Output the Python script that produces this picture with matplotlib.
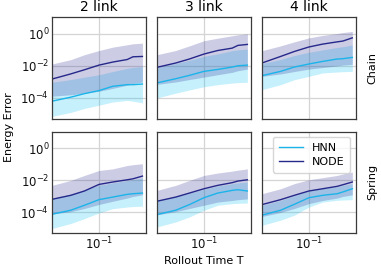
import numpy as np
import matplotlib
matplotlib.use("Agg")
import matplotlib.pyplot as plt

# rollout times
t = [0.0316, 0.05, 0.07, 0.1, 0.14, 0.2, 0.23, 0.29]

links = ["2 link", "3 link", "4 link"]
systems = ["Chain", "Spring"]

# energy error, stored as log10 values, one row per link count
chain_hnn_mid = [
    [-4.2, -3.95, -3.73, -3.54, -3.27, -3.17, -3.17, -3.13],
    [-3.06, -2.8, -2.59, -2.34, -2.22, -2.07, -1.99, -1.95],
    [-2.61, -2.34, -2.07, -1.88, -1.72, -1.57, -1.55, -1.47],
]
chain_hnn_lo = [
    [-5.15, -4.9, -4.65, -4.45, -4.25, -4.15, -4.2, -4.3],
    [-4.0, -3.7, -3.5, -3.3, -3.17, -3.07, -3.04, -3.02],
    [-3.48, -3.17, -2.86, -2.65, -2.44, -2.38, -2.36, -2.34],
]
chain_hnn_hi = [
    [-3.02, -2.85, -2.7, -2.55, -2.35, -2.15, -2.1, -2.05],
    [-2.1, -1.85, -1.65, -1.4, -1.25, -1.05, -1.0, -0.95],
    [-1.85, -1.6, -1.35, -1.15, -1.0, -0.85, -0.8, -0.7],
]
chain_node_mid = [
    [-2.82, -2.5, -2.24, -1.95, -1.76, -1.6, -1.43, -1.41],
    [-2.09, -1.82, -1.57, -1.26, -1.04, -0.89, -0.72, -0.66],
    [-1.82, -1.41, -1.1, -0.82, -0.64, -0.5, -0.45, -0.25],
]
chain_node_lo = [
    [-3.89, -3.8, -3.7, -3.58, -3.4, -3.2, -3.1, -3.0],
    [-3.15, -3.0, -2.85, -2.7, -2.55, -2.4, -2.3, -2.2],
    [-2.65, -2.5, -2.35, -2.2, -2.1, -2.0, -1.95, -1.9],
]
chain_node_hi = [
    [-1.88, -1.61, -1.3, -1.04, -0.83, -0.68, -0.62, -0.58],
    [-1.3, -1.04, -0.75, -0.43, -0.27, -0.12, -0.06, 0.0],
    [-1.05, -0.75, -0.5, -0.25, -0.1, 0.02, 0.08, 0.15],
]
spring_hnn_mid = [
    [-4.11, -3.86, -3.55, -3.2, -3.04, -2.87, -2.83, -2.79],
    [-4.13, -3.86, -3.51, -3.08, -2.79, -2.62, -2.58, -2.66],
    [-4.17, -3.86, -3.49, -3.08, -2.93, -2.83, -2.72, -2.52],
]
spring_hnn_lo = [
    [-5.0, -4.69, -4.38, -4.03, -3.76, -3.66, -3.63, -3.61],
    [-4.9, -4.59, -4.28, -3.86, -3.55, -3.45, -3.43, -3.41],
    [-4.8, -4.48, -4.17, -3.66, -3.35, -3.24, -3.22, -3.2],
]
spring_hnn_hi = [
    [-3.1, -2.85, -2.6, -2.3, -2.15, -2.0, -1.95, -1.85],
    [-3.25, -3.0, -2.8, -2.55, -2.35, -2.2, -2.15, -2.1],
    [-3.55, -3.25, -2.95, -2.65, -2.5, -2.4, -2.3, -2.2],
]
spring_node_mid = [
    [-3.18, -2.93, -2.66, -2.25, -2.1, -1.96, -1.9, -1.73],
    [-3.3, -3.04, -2.79, -2.52, -2.31, -2.14, -2.04, -1.96],
    [-3.51, -3.2, -2.93, -2.66, -2.52, -2.37, -2.27, -2.1],
]
spring_node_lo = [
    [-4.1, -3.95, -3.75, -3.5, -3.3, -3.1, -3.0, -2.9],
    [-4.15, -3.95, -3.75, -3.55, -3.35, -3.25, -3.2, -3.15],
    [-4.25, -4.0, -3.75, -3.45, -3.25, -3.1, -3.0, -2.9],
]
spring_node_hi = [
    [-2.31, -2.0, -1.69, -1.38, -1.28, -1.07, -1.02, -0.96],
    [-2.62, -2.31, -2.0, -1.69, -1.54, -1.42, -1.36, -1.28],
    [-2.83, -2.52, -2.2, -1.96, -1.83, -1.69, -1.6, -1.48],
]

data = {
    "Chain": {
        "HNN": (chain_hnn_mid, chain_hnn_lo, chain_hnn_hi),
        "NODE": (chain_node_mid, chain_node_lo, chain_node_hi),
    },
    "Spring": {
        "HNN": (spring_hnn_mid, spring_hnn_lo, spring_hnn_hi),
        "NODE": (spring_node_mid, spring_node_lo, spring_node_hi),
    },
}

colors = {"HNN": "#1bb4ea", "NODE": "#26288a"}
band_colors = {"HNN": "#10c4f4", "NODE": "#2d2d96"}

plt.rcParams["font.family"] = "DejaVu Sans"

fig, axes = plt.subplots(2, 3, figsize=(3.81, 2.70), dpi=100, sharex=True, sharey=True)
fig.subplots_adjust(left=0.1365, right=0.934, bottom=0.137, top=0.937,
                    wspace=0.117, hspace=0.128)

for r, system in enumerate(systems):
    for c, link in enumerate(links):
        ax = axes[r, c]
        for model in ["HNN", "NODE"]:
            mid, lo, hi = data[system][model]
            ax.fill_between(t, 10 ** np.array(lo[c]), 10 ** np.array(hi[c]),
                            color=band_colors[model], alpha=0.24, lw=0)
        for model in ["HNN", "NODE"]:
            mid, lo, hi = data[system][model]
            ax.plot(t, 10 ** np.array(mid[c]), color=colors[model], lw=1.0, label=model)

        ax.set_xscale("log")
        ax.set_yscale("log")
        ax.set_xlim(10 ** -1.5, 10 ** -0.5)
        ax.set_ylim(10 ** -5.28, 10 ** 1.05)
        ax.set_yticks([1, 1e-2, 1e-4])
        ax.set_xticks([0.1])
        ax.minorticks_off()
        ax.grid(True, color="#d4d4d4", lw=0.9)
        ax.set_axisbelow(True)
        ax.tick_params(length=0, labelsize=8.5, pad=2, colors="#111111")
        for s in ax.spines.values():
            s.set_color("#3a3a3a")
            s.set_linewidth(0.9)
        if r == 0:
            ax.set_title(link, fontsize=10, pad=4)
        if c == 2:
            ax.yaxis.set_label_position("right")
            ax.set_ylabel(system, fontsize=8, labelpad=8)

axes[1, 2].legend(loc="upper right", fontsize=8, handlelength=2.2,
                  borderpad=0.5, labelspacing=0.4, framealpha=0.8)

fig.text(0.024, 0.53, "Energy Error", rotation=90, ha="center", va="center", fontsize=8)
fig.text(0.535, 0.035, "Rollout Time T", ha="center", va="center", fontsize=8)

fig.savefig("out.png", dpi=100)
plt.close("all")
